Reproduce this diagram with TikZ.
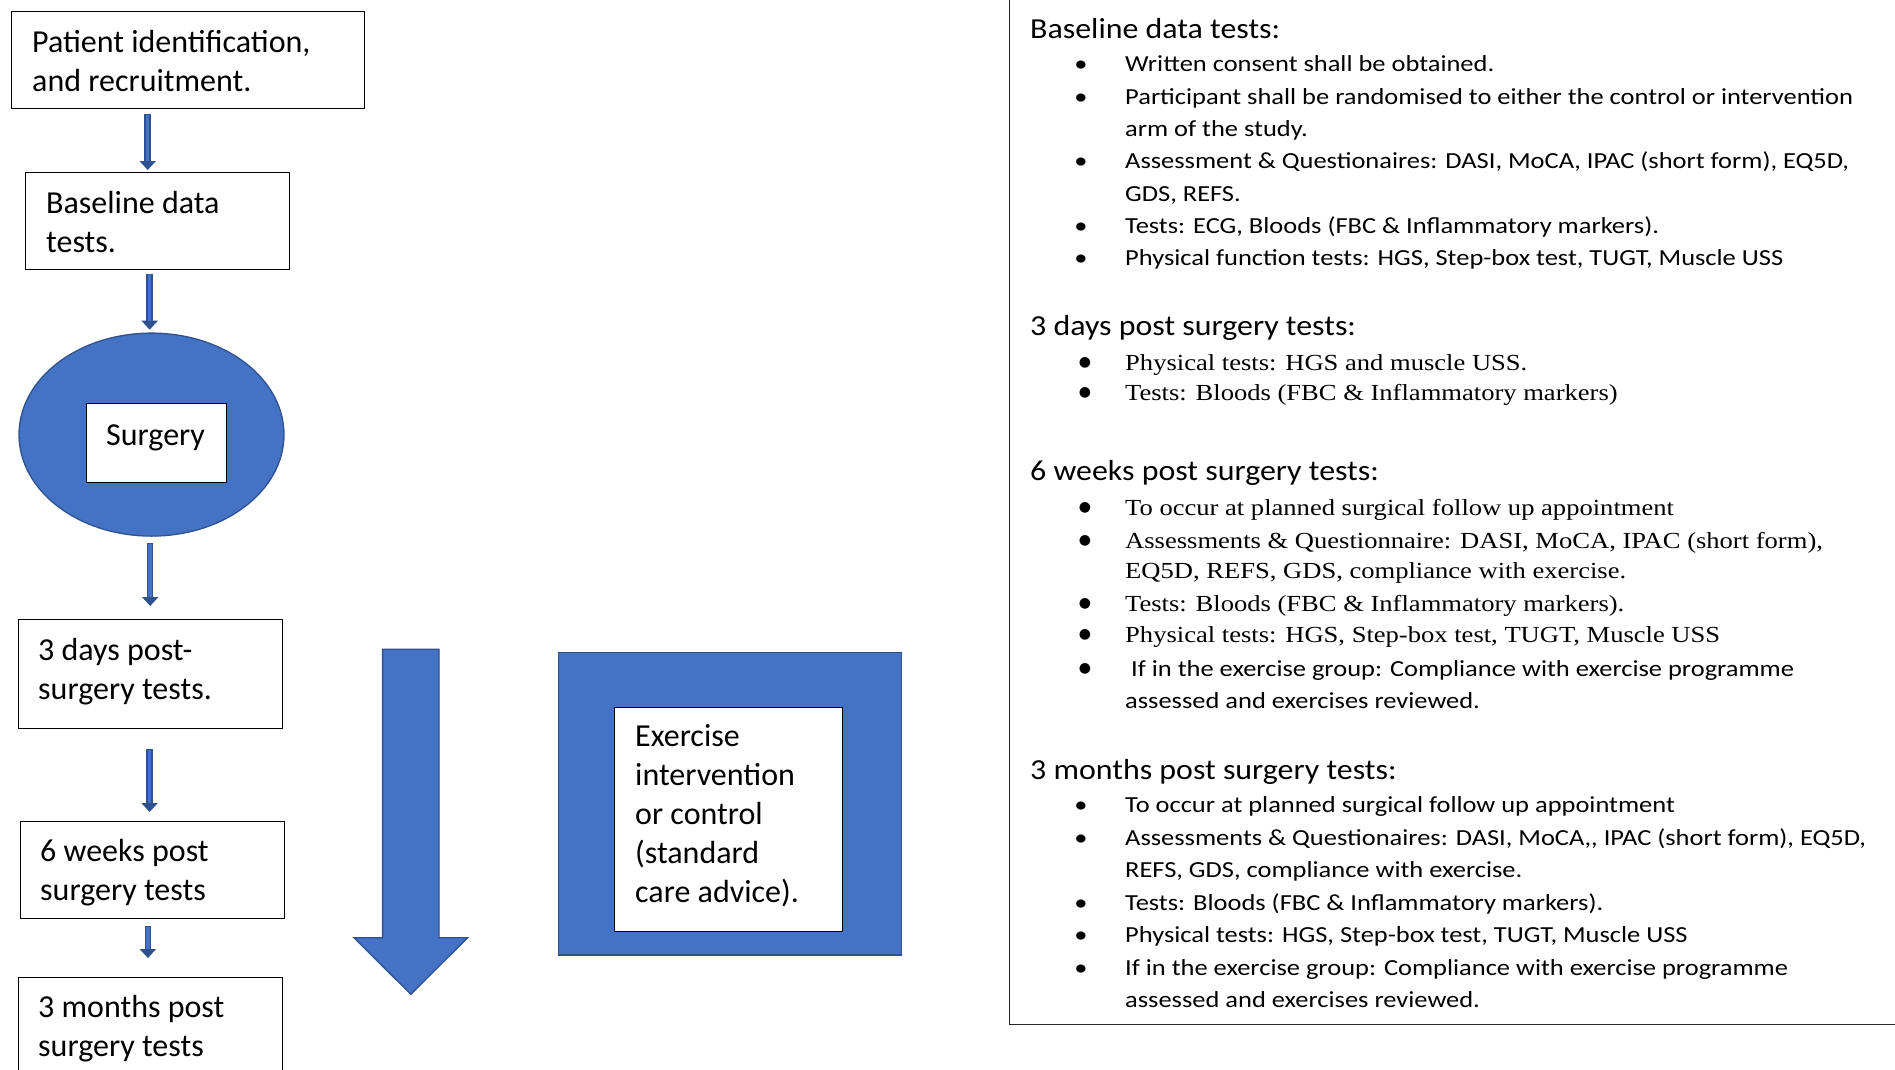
\documentclass[tikz,border=0pt]{standalone}
\usepackage{fontspec}
\setmainfont{Carlito}
\newfontfamily\calfont{Carlito}
\newfontfamily\calwide[FakeStretch=1.15]{Carlito}
\newfontfamily\calhead[FakeStretch=1.1]{Carlito}
\newfontfamily\tmswide[FakeStretch=1.155]{Liberation Serif}
\newfontfamily\dvfont{DejaVu Sans}
\usetikzlibrary{arrows.meta,shapes.geometric}
\definecolor{bfill}{HTML}{4472C4}
\definecolor{bline}{HTML}{2F528F}
\tikzset{
  box/.style={draw=black, line width=1.3pt, fill=white, inner sep=0pt, anchor=north west},
  lbl/.style={anchor=base west, inner sep=0pt, font=\calfont\fontsize{32}{39}\selectfont},
  hd/.style={anchor=base west, inner sep=0pt, font=\calhead\fontsize{29}{35}\selectfont},
  cb/.style={anchor=base west, inner sep=0pt, font=\calwide\fontsize{23}{32}\selectfont},
  tb/.style={anchor=base west, inner sep=0pt, font=\tmswide\fontsize{23}{32}\selectfont},
  bulc/.style={anchor=base, inner sep=0pt, font=\calwide\fontsize{23}{32}\selectfont},
  bult/.style={anchor=center, inner sep=0pt, font=\dvfont\fontsize{14}{14}\selectfont},
  arrout/.style={draw=bline, line width=6.5pt, -{Triangle[width=16pt 0 0,length=9pt 0 0]}},
  arrin/.style={draw=bfill, line width=3.5pt},
}
\begin{document}
\begin{tikzpicture}[x=1pt,y=-1pt]
\useasboundingbox (0,0) rectangle (1895,1070);
\clip (0,0) rectangle (1895,1070);
\fill[white] (0,0) rectangle (1895,1070);

% ---------- left flow ----------
\node[box, minimum width=353pt, minimum height=97pt] (pbox) at (11,11) {};
\node[lbl] (pt1) at (32,52.6) {Patient identification,};
\node[lbl] (pt2) at (32,91.9) {and recruitment.};

\node[box, minimum width=264pt, minimum height=97pt] (bbox) at (25,172) {};
\node[lbl] (bt1) at (46,213) {Baseline data};
\node[lbl] (bt2) at (46,252) {tests.};

\node[draw=bline, line width=1.3pt, fill=bfill, ellipse, minimum width=265pt, minimum height=203pt, inner sep=0pt] (surgell) at (151.5,434.6) {};
\node[box, minimum width=140pt, minimum height=79pt] (sbox) at (86,402.5) {};
\node[lbl] (st) at (106,445) {Surgery};

\node[box, minimum width=264pt, minimum height=109pt] (dbox) at (17.6,619) {};
\node[lbl] (dt1) at (38,660) {3 days post-};
\node[lbl] (dt2) at (38,699.3) {surgery tests.};

\node[box, minimum width=263.5pt, minimum height=97pt] (wbox) at (20,821) {};
\node[lbl] (wt1) at (40,861.7) {6 weeks post};
\node[lbl] (wt2) at (40,900.3) {surgery tests};

\node[box, minimum width=264pt, minimum height=120pt] (mbox) at (17.6,977) {};
\node[lbl] (mt1) at (38,1017.7) {3 months post};
\node[lbl] (mt2) at (38,1056.3) {surgery tests};

% small arrows
\coordinate (a1s) at (147.7,114);  \coordinate (a1e) at (147.7,170);
\coordinate (a2s) at (149.7,273.6);\coordinate (a2e) at (149.7,329.7);
\coordinate (a3s) at (150.2,543);  \coordinate (a3e) at (150.2,606);
\coordinate (a4s) at (149.6,749);  \coordinate (a4e) at (149.6,812);
\coordinate (a5s) at (147.9,926);  \coordinate (a5e) at (147.9,958);
\foreach \i in {1,...,5}{
  \draw[arrout] (a\i s) -- (a\i e);
  \draw[arrin, shorten >=9pt, shorten <=0.8pt] (a\i s) -- (a\i e);
}

% big arrow
\filldraw[fill=bfill, draw=bline, line width=1.3pt]
  (382.6,649.3) -- (439,649.3) -- (439,937.7) -- (467.7,937.7) -- (410.8,994.3)
  -- (353.9,937.7) -- (382.6,937.7) -- cycle;

% exercise box
\node[draw=bline, line width=1.5pt, fill=bfill, minimum width=343pt, minimum height=302.6pt, inner sep=0pt, anchor=north west] (exouter) at (557.5,651.7) {};
\node[box, minimum width=228.3pt, minimum height=224pt] (exinner) at (613.8,706.7) {};
\node[lbl] (ex1) at (635,746.7) {Exercise};
\node[lbl] (ex2) at (635,785.7) {intervention};
\node[lbl] (ex3) at (635,824.3) {or control};
\node[lbl] (ex4) at (635,863.3) {(standard};
\node[lbl] (ex5) at (635,902.3) {care advice).};

% ---------- right panel ----------
\node[draw=black!85, line width=1.3pt, minimum width=900pt, minimum height=1045pt, inner sep=0pt, anchor=south west] (panel) at (1009,1025) {};

\node[hd] (h1) at (1030,38.5) {Baseline data tests:};
\foreach \y in {71.7,104.1,168.7,233.3,265.6}{\node[bulc] at (1081,\y) {•};}
\node[cb] (b11) at (1125,71.7) {Written consent shall be obtained.};
\node[cb] (b12) at (1125,104.1) {Participant shall be randomised to either the control or intervention};
\node[cb] (b13) at (1125,136.4) {arm of the study.};
\node[cb] (b14) at (1125,168.7) {Assessment \& Questionaires: DASI, MoCA, IPAC (short form), EQ5D,};
\node[cb] (b15) at (1125,201) {GDS, REFS.};
\node[cb] (b16) at (1125,233.3) {Tests: ECG, Bloods (FBC \& Inflammatory markers).};
\node[cb] (b17) at (1125,265.6) {Physical function tests: HGS, Step-box test, TUGT, Muscle USS};

\node[hd] (h2) at (1030,335) {3 days post surgery tests:};
\foreach \y in {370.5,400}{\node[bult] at (1085,\y-7.5) {●};}
\node[tb] (b21) at (1125,370.5) {Physical tests: HGS and muscle USS.};
\node[tb] (b22) at (1125,400) {Tests: Bloods (FBC \& Inflammatory markers)};

\node[hd] (h3) at (1030,480) {6 weeks post surgery tests:};
\foreach \y in {515,548.3,611.7,642.7,676.7}{\node[bult] at (1085,\y-7.5) {●};}
\node[tb] (b31) at (1125,515) {To occur at planned surgical follow up appointment};
\node[tb] (b32) at (1125,548.3) {Assessments \& Questionnaire: DASI, MoCA, IPAC (short form),};
\node[tb] (b33) at (1125,578.3) {EQ5D, REFS, GDS, compliance with exercise.};
\node[tb] (b34) at (1125,611.7) {Tests: Bloods (FBC \& Inflammatory markers).};
\node[tb] (b35) at (1125,642.7) {Physical tests: HGS, Step-box test, TUGT, Muscle USS};
\node[cb] (b36) at (1131,676.7) {If in the exercise group: Compliance with exercise programme};
\node[cb] (b37) at (1125,708.3) {assessed and exercises reviewed.};

\node[hd] (h4) at (1030,779.3) {3 months post surgery tests:};
\foreach \y in {812.7,845.4,910.4,942.7,975}{\node[bulc] at (1081,\y) {•};}
\node[cb] (b41) at (1125,812.7) {To occur at planned surgical follow up appointment};
\node[cb] (b42) at (1125,845.4) {Assessments \& Questionaires: DASI, MoCA,, IPAC (short form), EQ5D,};
\node[cb] (b43) at (1125,877.9) {REFS, GDS, compliance with exercise.};
\node[cb] (b44) at (1125,910.4) {Tests: Bloods (FBC \& Inflammatory markers).};
\node[cb] (b45) at (1125,942.7) {Physical tests: HGS, Step-box test, TUGT, Muscle USS};
\node[cb] (b46) at (1125,975) {If in the exercise group: Compliance with exercise programme};
\node[cb] (b47) at (1125,1007.5) {assessed and exercises reviewed.};
\end{tikzpicture}
\end{document}
